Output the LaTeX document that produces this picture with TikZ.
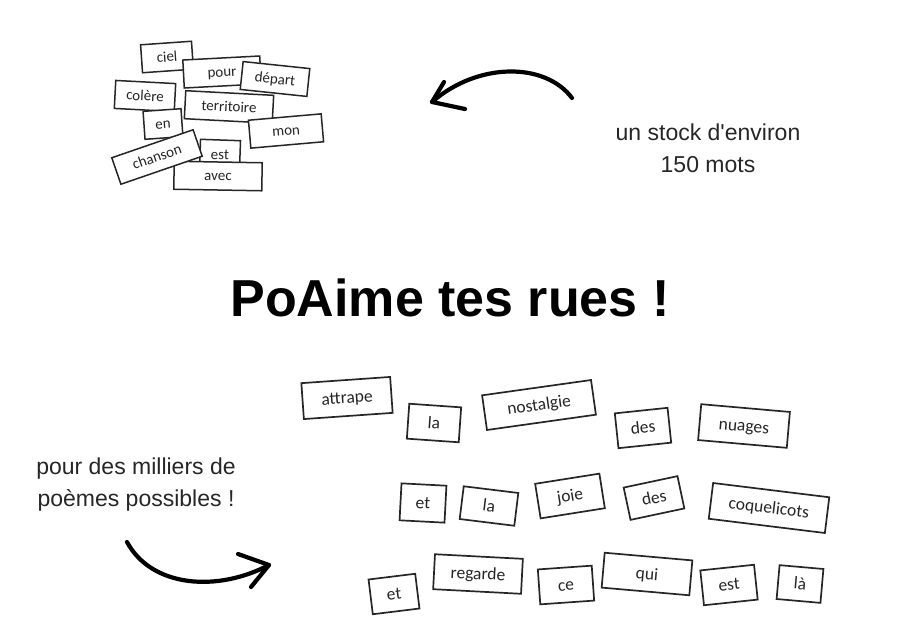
\documentclass[tikz,border=0pt]{standalone}
\usepackage{fontspec}
\setmainfont{Liberation Sans}
\newfontfamily\cardfont{Carlito}
\begin{document}
\begin{tikzpicture}[x=1pt,y=-1pt,
  cardbase/.style={draw=black!85, fill=white, inner sep=0pt, text=black!85},
  tcard/.style={cardbase, line width=1.5pt, minimum height=28pt, text height=11.5pt, text depth=2pt, font=\cardfont\fontsize{15}{17}\selectfont},
  bcard/.style={cardbase, line width=1.7pt, minimum height=35pt, text height=13pt, text depth=2pt, font=\cardfont\fontsize{17.5}{19}\selectfont},
  label/.style={align=center, text=black!85, font=\fontsize{23}{32}\selectfont},
  title/.style={font=\bfseries\fontsize{52}{56}\selectfont, text=black},
  curvearrow/.style={line width=4.2pt, line cap=round, line join=round, black}]
\useasboundingbox (0,0) rectangle (901,640);

% top cluster of words
\node[tcard, minimum width=51pt, rotate=4]  (ciel)  at (167,57)  {ciel};
\node[tcard, minimum width=77pt, rotate=3]  (pour)  at (222,72)  {pour};
\node[tcard, minimum width=88pt, rotate=-3] (terr)  at (229,107) {territoire};
\node[tcard, minimum width=67pt, rotate=-6] (dep)   at (275,79)  {départ};
\node[tcard, minimum width=60pt, rotate=-3] (col)   at (145,96)  {colère};
\node[tcard, minimum width=38pt, rotate=4]  (en)    at (163,124) {en};
\node[tcard, minimum width=73pt, rotate=5]  (mon)   at (286,131) {mon};
\node[tcard, minimum width=40pt, minimum height=30pt, rotate=-2] (est1) at (220,155) {est};
\node[tcard, minimum width=88pt, rotate=-1] (avec)  at (218,176) {avec};
\node[tcard, minimum width=86pt, rotate=19] (chan)  at (157,157) {chanson};

% top arrow and caption
\coordinate (ta0) at (572,98);
\coordinate (ta1) at (432,102);
\coordinate (tb1) at (444,82);
\coordinate (tb2) at (465,109);
\draw[curvearrow] (ta0) .. controls (545,62) and (478,62) .. (ta1);
\draw[curvearrow] (tb1) -- (ta1) -- (tb2);
\node[label] (stock) at (708,148) {un stock d\textquotesingle environ\\150 mots};

% title
\node[title] (ttl) at (450,298) {PoAime tes rues !};

% bottom caption and arrow
\node[label] (milliers) at (136,485) {pour des milliers de\\poèmes possibles !};
\coordinate (ba0) at (127,542);
\coordinate (ba1) at (269,565);
\coordinate (bb1) at (238,554);
\coordinate (bb2) at (251,587);
\draw[curvearrow] (ba0) .. controls (152,588) and (218,592) .. (ba1);
\draw[curvearrow] (bb1) -- (ba1) -- (bb2);

% bottom poem
\node[bcard, minimum width=89pt, minimum height=36pt, rotate=4]  (w1)  at (347,398) {attrape};
\node[bcard, minimum width=52pt, rotate=-4] (w2)  at (434,423) {la};
\node[bcard, minimum width=110pt, rotate=8] (w3)  at (539,405) {nostalgie};
\node[bcard, minimum width=53pt, rotate=6]  (w4)  at (643,428) {des};
\node[bcard, minimum width=89pt, minimum height=36pt, rotate=-5] (w5)  at (744,426) {nuages};
\node[bcard, minimum width=45pt, minimum height=37pt, rotate=-3] (w6)  at (423,503) {et};
\node[bcard, minimum width=55pt, minimum height=33pt, rotate=-7] (w7)  at (489,506) {la};
\node[bcard, minimum width=65pt, rotate=9]  (w8)  at (570,496) {joie};
\node[bcard, minimum width=55pt, minimum height=33pt, rotate=12] (w9)  at (654,498) {des};
\node[bcard, minimum width=117pt, minimum height=36pt, rotate=-7] (w10) at (769,508) {coquelicots};
\node[bcard, minimum width=47pt, rotate=7]  (w11) at (394,594) {et};
\node[bcard, minimum width=88pt, rotate=-3] (w12) at (478,574) {regarde};
\node[bcard, minimum width=54pt, rotate=4]  (w13) at (566,585) {ce};
\node[bcard, minimum width=88pt, rotate=-5] (w14) at (647,574) {qui};
\node[bcard, minimum width=54pt, rotate=6]  (w15) at (729,585) {est};
\node[bcard, minimum width=44pt, minimum height=34pt, rotate=-5] (w16) at (800,584) {là};
\end{tikzpicture}
\end{document}
